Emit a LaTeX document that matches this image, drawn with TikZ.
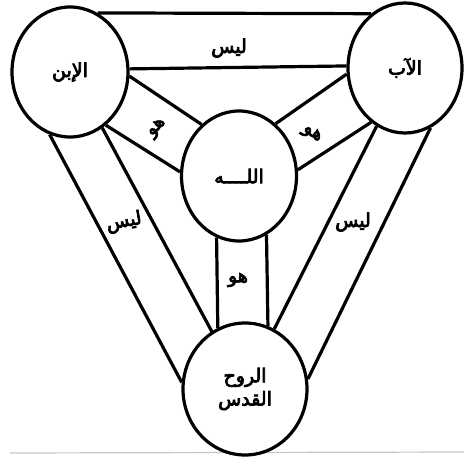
\documentclass[tikz,border=0pt]{standalone}
\usepackage{fontspec}
\usetikzlibrary{shapes.geometric}
\newfontfamily\arabicfont[Script=Arabic, FakeBold=4]{DejaVu Sans}
\TeXXeTstate=1
\begin{document}
\begin{tikzpicture}[x=0.5mm, y=-0.5mm, every node/.style={font=\arabicfont\fontsize{27}{33}\selectfont},
  person/.style={ellipse, draw, line width=1.6mm, inner sep=0pt, fill=white},
  band/.style={line width=1.6mm},
  word/.style={inner sep=1pt}]
\useasboundingbox (0,0) rectangle (464,460);
\draw[gray!45, line width=0.6mm] (10,453) -- (464,452);
% the four persons
\node[person, minimum width=58mm, minimum height=65mm] (son) at (70,72) {\beginR الإبن\endR};
\node[person, minimum width=57mm, minimum height=65mm] (father) at (405,68) {\beginR الآب\endR};
\node[person, minimum width=57.5mm, minimum height=65mm] (god) at (239,176) {\beginR اللــــه\endR};
\node[person, minimum width=62mm, minimum height=66mm, align=center] (spirit) at (245,389) {\beginR الروح\endR\\\beginR القدس\endR};
% bands between them
\draw[band] (son.65) -- (father.122);
\draw[band] (son.3) -- (father.178);
\draw[band] (son.-4) -- (god.126);
\draw[band] (son.-56) -- (god.176);
\draw[band] (father.186) -- (god.55);
\draw[band] (father.-122) -- (god.6);
\draw[band] (god.-110) -- (spirit.114);
\draw[band] (god.-65) -- (spirit.70);
\draw[band] (son.-60) -- (spirit.120);
\draw[band] (son.-108) -- (spirit.174);
\draw[band] (father.-116) -- (spirit.64);
\draw[band] (father.-67) -- (spirit.9);
% labels on the bands
\node[word] (nottop) at (229,48) {\beginR ليس\endR};
\node[word, rotate=45] (isson) at (157,128) {\beginR هو\endR};
\node[word, rotate=-35] (isfather) at (312,134) {\beginR هو\endR};
\node[word] (isspirit) at (238,280) {\beginR هو\endR};
\node[word, rotate=10] (notleft) at (124,222) {\beginR ليس\endR};
\node[word] (notright) at (353,222) {\beginR ليس\endR};
\end{tikzpicture}
\end{document}
